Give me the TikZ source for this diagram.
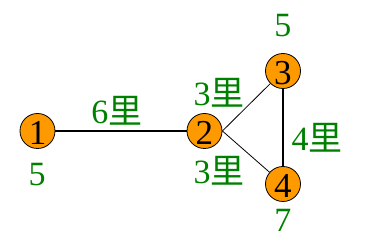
\documentclass[tikz,border=0pt]{standalone}
\usepackage{fontspec}
\setmainfont{Liberation Serif}
\newfontfamily\cjk{Noto Sans CJK SC}
\definecolor{vorange}{RGB}{255,153,0}
\definecolor{lgreen}{RGB}{0,128,0}
\begin{document}
\begin{tikzpicture}[x=1pt,y=-1pt,
  vert/.style={circle,draw=black,fill=vorange,minimum size=35pt,inner sep=0pt,line width=0.8pt},
  vnum/.style={font=\fontsize{35}{35}\selectfont,inner sep=0pt},
  lbl/.style={text=lgreen,font=\fontsize{34}{34}\selectfont,inner sep=0pt},
  heavy/.style={line width=2pt},
  light/.style={line width=0.8pt}]
\useasboundingbox (0,0) rectangle (368,245);
% vertices
\node[vert] (v1) at (37.5,131) {};
\node[vert] (v2) at (204.5,131) {};
\node[vert] (v3) at (283,71) {};
\node[vert] (v4) at (283,184) {};
\node[vnum] (n1) at (37.5,133) {1};
\node[vnum] (n2) at (204.5,133) {2};
\node[vnum] (n3) at (283,73) {3};
\node[vnum] (n4) at (283,186) {4};
% edges
\draw[heavy] (v1) -- (v2);
\draw[heavy] (v3) -- (v4);
\draw[light] (v2.east) -- (v3);
\draw[light] (v2.east) -- (v4);
% edge lengths
\node[lbl] (e12) at (117,111) {6{\cjk 里}};
\node[lbl] (e23) at (219,93) {3{\cjk 里}};
\node[lbl] (e24) at (219,171) {3{\cjk 里}};
\node[lbl] (e34) at (317,138) {4{\cjk 里}};
% vertex weights
\node[lbl] (w1) at (37,175) {5};
\node[lbl] (w3) at (283,26) {5};
\node[lbl] (w4) at (283,220) {7};
\end{tikzpicture}
\end{document}
